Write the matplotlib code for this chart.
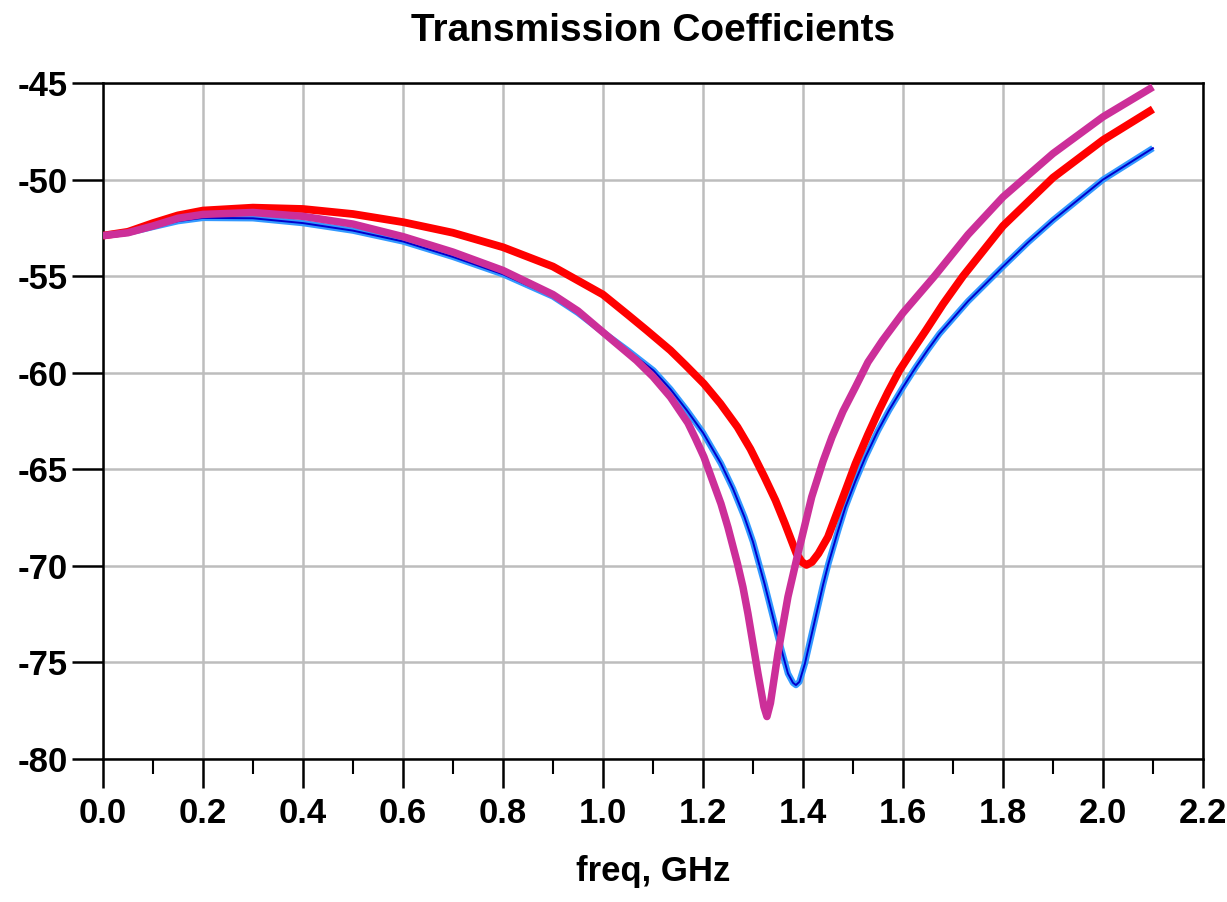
import matplotlib
matplotlib.use("Agg")

import matplotlib.pyplot as plt
from matplotlib.ticker import MultipleLocator

plt.rcParams["font.family"] = ["Liberation Sans", "DejaVu Sans"]
plt.rcParams["font.weight"] = "bold"
plt.rcParams["axes.unicode_minus"] = False

# Blue trace (light + dark overlay)
freq_blue = [0.0, 0.05, 0.1, 0.15, 0.2, 0.3, 0.4, 0.5, 0.6, 0.7, 0.8, 0.9, 0.95,
             1.0, 1.05, 1.101, 1.135, 1.168, 1.2, 1.236, 1.26, 1.283, 1.3,
             1.323, 1.35, 1.37, 1.38, 1.386, 1.393, 1.404, 1.424, 1.44, 1.451,
             1.47, 1.485, 1.505, 1.525, 1.55, 1.572, 1.6, 1.626, 1.65, 1.673,
             1.73, 1.8, 1.85, 1.9, 2.0, 2.1]
s_blue = [-52.9, -52.75, -52.45, -52.15, -51.98, -52.0, -52.25, -52.64, -53.2,
          -54.0, -54.9, -56.05, -56.9, -57.9, -58.85, -59.88, -60.85, -61.95,
          -63.1, -64.7, -66.0, -67.47, -68.75, -70.91, -73.67, -75.57, -76.05,
          -76.17, -76.0, -75.05, -72.8, -71.0, -69.88, -68.2, -66.95, -65.6,
          -64.36, -63.0, -61.95, -60.75, -59.7, -58.8, -57.98, -56.3, -54.5,
          -53.25, -52.1, -50.0, -48.37]

# Red trace
freq_red = [0.0, 0.05, 0.1, 0.15, 0.2, 0.3, 0.4, 0.5, 0.6, 0.7, 0.8, 0.9, 1.0,
            1.05, 1.0875, 1.135, 1.165, 1.202, 1.235, 1.269, 1.295, 1.323,
            1.345, 1.364, 1.387, 1.398, 1.407, 1.418, 1.431, 1.45, 1.465, 1.485,
            1.505, 1.53, 1.552, 1.57, 1.593, 1.62, 1.646, 1.68, 1.72, 1.8, 1.9,
            2.0, 2.1]
s_red = [-52.9, -52.7, -52.25, -51.85, -51.6, -51.45, -51.52, -51.78, -52.2,
         -52.75, -53.5, -54.5, -55.95, -57.0, -57.8, -58.84, -59.6, -60.57,
         -61.6, -62.81, -63.95, -65.4, -66.6, -67.81, -69.36, -69.8, -69.95,
         -69.8, -69.36, -68.5, -67.47, -66.1, -64.71, -63.2, -61.95, -61.0,
         -59.88, -58.8, -57.8, -56.45, -55.0, -52.4, -49.9, -47.95, -46.35]

# Magenta trace
freq_mag = [0.0, 0.05, 0.1, 0.15, 0.2, 0.3, 0.4, 0.5, 0.6, 0.7, 0.8, 0.9, 0.95,
            1.0, 1.067, 1.1, 1.135, 1.17, 1.185, 1.202, 1.236, 1.25, 1.269,
            1.28, 1.29, 1.31, 1.322, 1.328, 1.335, 1.35, 1.37, 1.39, 1.4175,
            1.44, 1.458, 1.48, 1.505, 1.53, 1.559, 1.6, 1.663, 1.73, 1.8, 1.9,
            2.0, 2.1]
s_mag = [-52.9, -52.75, -52.4, -52.0, -51.8, -51.7, -51.9, -52.3, -52.95,
         -53.75, -54.7, -55.95, -56.8, -57.9, -59.36, -60.2, -61.26, -62.6,
         -63.4, -64.36, -66.78, -68.0, -69.88, -71.1, -72.47, -75.57, -77.3,
         -77.8, -77.1, -74.53, -71.6, -69.36, -66.43, -64.6, -63.33, -62.0,
         -60.74, -59.45, -58.33, -56.9, -55.0, -52.85, -50.9, -48.65, -46.75,
         -45.2]

fig = plt.figure(figsize=(12.27, 9.02), dpi=100)
ax = fig.add_axes([0.0839, 0.1585, 0.8965, 0.7494])

ax.plot(freq_blue, s_blue, color="#3399ff", lw=4.6, solid_capstyle="butt",
        solid_joinstyle="round", zorder=3)
ax.plot(freq_blue, s_blue, color="#0000cc", lw=1.4, zorder=3)
ax.plot(freq_red, s_red, color="#ff0000", lw=5.6, solid_capstyle="butt",
        solid_joinstyle="round", zorder=4)
ax.plot(freq_mag, s_mag, color="#cc2f99", lw=5.4, solid_capstyle="butt",
        solid_joinstyle="round", zorder=5)

ax.set_xlim(0, 2.2)
ax.set_ylim(-80, -45)
ax.xaxis.set_major_locator(MultipleLocator(0.2))
ax.xaxis.set_minor_locator(MultipleLocator(0.1))
ax.yaxis.set_major_locator(MultipleLocator(5))
ax.xaxis.set_major_formatter(plt.FormatStrFormatter("%.1f"))

ax.grid(True, which="major", color="#bdbdbd", lw=1.8)
ax.set_axisbelow(True)
for sp in ax.spines.values():
    sp.set_linewidth(1.8)
    sp.set_color("black")

ax.tick_params(axis="x", which="major", direction="out", length=21, width=1.8,
               labelsize=25, pad=6)
ax.tick_params(axis="x", which="minor", direction="out", length=11, width=1.5)
ax.tick_params(axis="y", which="major", direction="out", length=22, width=1.8,
               labelsize=25, pad=3)
for lbl in ax.get_xticklabels() + ax.get_yticklabels():
    lbl.set_fontweight("bold")

ax.set_title("Transmission Coefficients", fontsize=28, fontweight="bold", pad=30)
ax.set_xlabel("freq, GHz", fontsize=25, fontweight="bold", labelpad=18)

fig.savefig("out.png", dpi=100)
